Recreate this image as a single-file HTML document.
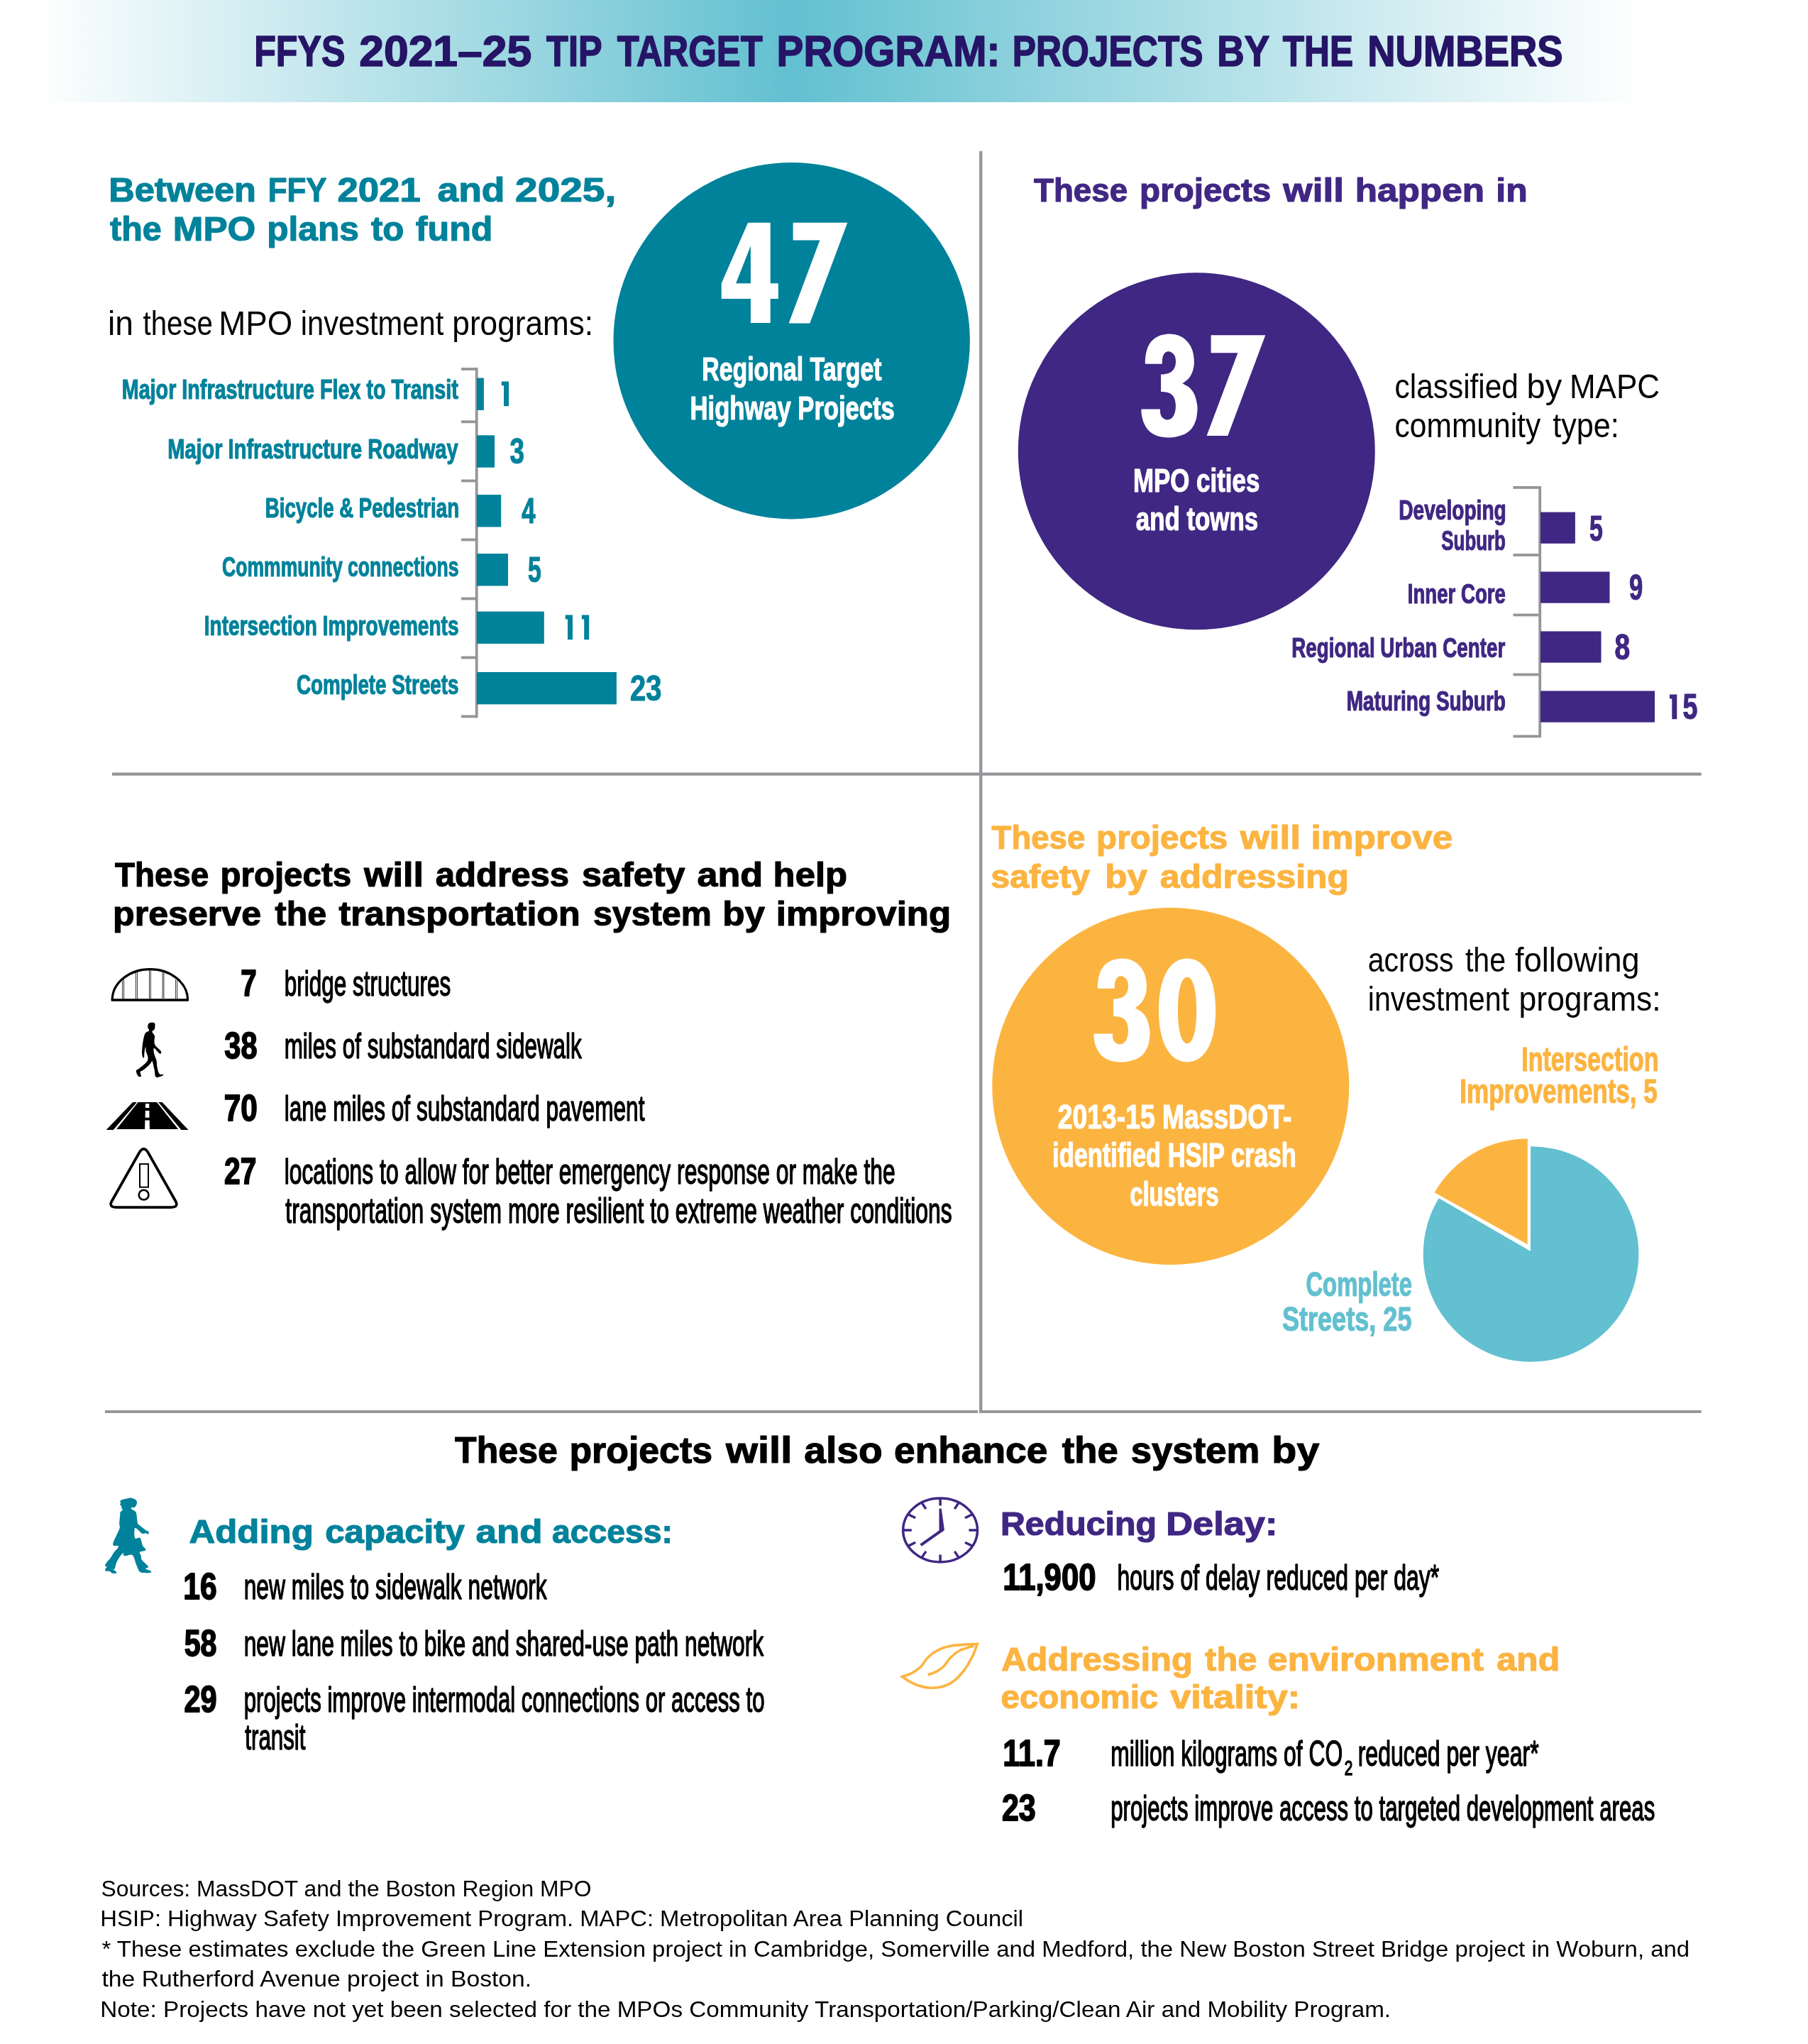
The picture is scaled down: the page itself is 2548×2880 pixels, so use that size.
<!DOCTYPE html>
<html lang="en">
<head>
<meta charset="utf-8">
<title>FFYs 2021-25 TIP Target Program: Projects by the Numbers</title>
<style>
html,body{margin:0;padding:0;background:#fff;}
body{width:2548px;height:2880px;overflow:hidden;font-family:"Liberation Sans",sans-serif;}
svg{display:block;font-family:"Liberation Sans",sans-serif;will-change:transform;}
</style>
</head>
<body>
<svg width="2548" height="2880" viewBox="0 0 2548 2880">
<defs>
<linearGradient id="hg" x1="0" y1="0" x2="2548" y2="0" gradientUnits="userSpaceOnUse">
<stop offset="0.0196" stop-color="#ffffff"/>
<stop offset="0.4376" stop-color="#62c0d0"/>
<stop offset="0.9082" stop-color="#ffffff"/>
</linearGradient>
</defs>
<rect x="0" y="0" width="2548" height="144" fill="url(#hg)"/>
<text x="358.14" y="93" font-size="62" font-weight="bold" fill="#261566" textLength="128.26" lengthAdjust="spacingAndGlyphs" stroke="#261566" stroke-width="1.6" stroke-linejoin="round">FFYS</text>
<text x="506.22" y="93" font-size="62" font-weight="bold" fill="#261566" textLength="242.94" lengthAdjust="spacingAndGlyphs" stroke="#261566" stroke-width="1.6" stroke-linejoin="round">2021–25</text>
<text x="770.10" y="93" font-size="62" font-weight="bold" fill="#261566" textLength="78.45" lengthAdjust="spacingAndGlyphs" stroke="#261566" stroke-width="1.6" stroke-linejoin="round">TIP</text>
<text x="869.69" y="93" font-size="62" font-weight="bold" fill="#261566" textLength="205.00" lengthAdjust="spacingAndGlyphs" stroke="#261566" stroke-width="1.6" stroke-linejoin="round">TARGET</text>
<text x="1094.62" y="93" font-size="62" font-weight="bold" fill="#261566" textLength="314.66" lengthAdjust="spacingAndGlyphs" stroke="#261566" stroke-width="1.6" stroke-linejoin="round">PROGRAM:</text>
<text x="1426.76" y="93" font-size="62" font-weight="bold" fill="#261566" textLength="268.90" lengthAdjust="spacingAndGlyphs" stroke="#261566" stroke-width="1.6" stroke-linejoin="round">PROJECTS</text>
<text x="1715.24" y="93" font-size="62" font-weight="bold" fill="#261566" textLength="73.99" lengthAdjust="spacingAndGlyphs" stroke="#261566" stroke-width="1.6" stroke-linejoin="round">BY</text>
<text x="1807.80" y="93" font-size="62" font-weight="bold" fill="#261566" textLength="99.24" lengthAdjust="spacingAndGlyphs" stroke="#261566" stroke-width="1.6" stroke-linejoin="round">THE</text>
<text x="1927.26" y="93" font-size="62" font-weight="bold" fill="#261566" textLength="275.39" lengthAdjust="spacingAndGlyphs" stroke="#261566" stroke-width="1.6" stroke-linejoin="round">NUMBERS</text>
<rect x="1380.1" y="213" width="4.3" height="1778" fill="#939598"/>
<rect x="157.9" y="1088.6" width="2239.8" height="4.2" fill="#939598"/>
<rect x="147.9" y="1987.1" width="1230.3" height="3.9" fill="#939598"/>
<rect x="1380.1" y="1987.1" width="1017.6" height="3.9" fill="#939598"/>
<text x="153.32" y="284.3" font-size="48" font-weight="bold" fill="#00829b" textLength="207.53" lengthAdjust="spacingAndGlyphs" stroke="#00829b" stroke-width="1.2" stroke-linejoin="round">Between</text>
<text x="377.75" y="284.3" font-size="48" font-weight="bold" fill="#00829b" textLength="82.87" lengthAdjust="spacingAndGlyphs" stroke="#00829b" stroke-width="1.2" stroke-linejoin="round">FFY</text>
<text x="475.46" y="284.3" font-size="48" font-weight="bold" fill="#00829b" textLength="117.25" lengthAdjust="spacingAndGlyphs" stroke="#00829b" stroke-width="1.2" stroke-linejoin="round">2021</text>
<text x="616.50" y="284.3" font-size="48" font-weight="bold" fill="#00829b" textLength="95.03" lengthAdjust="spacingAndGlyphs" stroke="#00829b" stroke-width="1.2" stroke-linejoin="round">and</text>
<text x="726.11" y="284.3" font-size="48" font-weight="bold" fill="#00829b" textLength="142.12" lengthAdjust="spacingAndGlyphs" stroke="#00829b" stroke-width="1.2" stroke-linejoin="round">2025,</text>
<text x="155.12" y="339.3" font-size="48" font-weight="bold" fill="#00829b" textLength="72.68" lengthAdjust="spacingAndGlyphs" stroke="#00829b" stroke-width="1.2" stroke-linejoin="round">the</text>
<text x="243.88" y="339.3" font-size="48" font-weight="bold" fill="#00829b" textLength="116.52" lengthAdjust="spacingAndGlyphs" stroke="#00829b" stroke-width="1.2" stroke-linejoin="round">MPO</text>
<text x="376.28" y="339.3" font-size="48" font-weight="bold" fill="#00829b" textLength="129.50" lengthAdjust="spacingAndGlyphs" stroke="#00829b" stroke-width="1.2" stroke-linejoin="round">plans</text>
<text x="522.91" y="339.3" font-size="48" font-weight="bold" fill="#00829b" textLength="46.40" lengthAdjust="spacingAndGlyphs" stroke="#00829b" stroke-width="1.2" stroke-linejoin="round">to</text>
<text x="585.85" y="339.3" font-size="48" font-weight="bold" fill="#00829b" textLength="108.64" lengthAdjust="spacingAndGlyphs" stroke="#00829b" stroke-width="1.2" stroke-linejoin="round">fund</text>
<text x="152.00" y="472" font-size="48.5" fill="#000000" textLength="35.96" lengthAdjust="spacingAndGlyphs">in</text>
<text x="201.60" y="472" font-size="48.5" fill="#000000" textLength="98.26" lengthAdjust="spacingAndGlyphs">these</text>
<text x="308.25" y="472" font-size="48.5" fill="#000000" textLength="104.04" lengthAdjust="spacingAndGlyphs">MPO</text>
<text x="423.79" y="472" font-size="48.5" fill="#000000" textLength="201.44" lengthAdjust="spacingAndGlyphs">investment</text>
<text x="637.33" y="472" font-size="48.5" fill="#000000" textLength="198.71" lengthAdjust="spacingAndGlyphs">programs:</text>
<circle cx="1115.7" cy="480.2" r="251.2" fill="#00829b"/>
<path fill="#fff" fill-rule="evenodd" d="M1054.1 313.7 L1085.7 313.7 L1085.7 399.3 L1096.8 399.3 L1096.8 420.9 L1085.7 420.9 L1085.7 455.1 L1057.9 455.1 L1057.9 420.9 L1016.7 420.9 L1016.7 399.3 Z M1057.9 346.4 L1057.9 399.3 L1037.1 399.3 Z"/>
<path fill="#fff" d="M1117.6 313.7 L1194.3 313.7 L1141.3 455.4 L1111.6 455.4 L1155.4 338.6 L1117.6 338.6 Z"/>
<text x="989.20" y="535.6" font-size="46.5" font-weight="bold" fill="#fff" textLength="253.33" lengthAdjust="spacingAndGlyphs" stroke="#fff" stroke-width="1.2" stroke-linejoin="round">Regional Target</text>
<text x="972.55" y="590.8" font-size="46.5" font-weight="bold" fill="#fff" textLength="288.27" lengthAdjust="spacingAndGlyphs" stroke="#fff" stroke-width="1.2" stroke-linejoin="round">Highway Projects</text>
<rect x="669.8" y="518.1" width="3.8" height="493.3" fill="#939598"/>
<rect x="650" y="518.1" width="21" height="3.8" fill="#939598"/>
<rect x="650" y="592.4" width="21" height="3.8" fill="#939598"/>
<rect x="650" y="675.6" width="21" height="3.8" fill="#939598"/>
<rect x="650" y="758.6" width="21" height="3.8" fill="#939598"/>
<rect x="650" y="841.6" width="21" height="3.8" fill="#939598"/>
<rect x="650" y="924.6" width="21" height="3.8" fill="#939598"/>
<rect x="650" y="1007.6" width="21" height="3.8" fill="#939598"/>
<rect x="672" y="532.5" width="9.9" height="45.4" fill="#00829b"/>
<text x="171.73" y="561.5" font-size="39" font-weight="bold" fill="#00829b" textLength="474.06" lengthAdjust="spacingAndGlyphs" stroke="#00829b" stroke-width="1.2" stroke-linejoin="round">Major Infrastructure Flex to Transit</text>
<path fill="#00829b" d="M706.7 537.5 H717.0 V572.2 H710.0 V543.3 H706.7 Z"/>
<rect x="672" y="613.3" width="25" height="45.4" fill="#00829b"/>
<text x="236.22" y="645.5" font-size="39" font-weight="bold" fill="#00829b" textLength="409.32" lengthAdjust="spacingAndGlyphs" stroke="#00829b" stroke-width="1.2" stroke-linejoin="round">Major Infrastructure Roadway</text>
<text x="718.38" y="653" font-size="50" font-weight="bold" fill="#00829b" textLength="20.45" lengthAdjust="spacingAndGlyphs" stroke="#00829b" stroke-width="1.2" stroke-linejoin="round">3</text>
<rect x="672" y="697.0999999999999" width="34.2" height="45.4" fill="#00829b"/>
<text x="373.81" y="728.5" font-size="39" font-weight="bold" fill="#00829b" textLength="273.22" lengthAdjust="spacingAndGlyphs" stroke="#00829b" stroke-width="1.2" stroke-linejoin="round">Bicycle &amp; Pedestrian</text>
<text x="735.28" y="736.8" font-size="50" font-weight="bold" fill="#00829b" textLength="19.23" lengthAdjust="spacingAndGlyphs" stroke="#00829b" stroke-width="1.2" stroke-linejoin="round">4</text>
<rect x="672" y="780.0999999999999" width="44" height="45.4" fill="#00829b"/>
<text x="313.04" y="811.5" font-size="39" font-weight="bold" fill="#00829b" textLength="333.47" lengthAdjust="spacingAndGlyphs" stroke="#00829b" stroke-width="1.2" stroke-linejoin="round">Commmunity connections</text>
<text x="743.89" y="819.8" font-size="50" font-weight="bold" fill="#00829b" textLength="18.80" lengthAdjust="spacingAndGlyphs" stroke="#00829b" stroke-width="1.2" stroke-linejoin="round">5</text>
<rect x="672" y="861.5999999999999" width="94.8" height="45.4" fill="#00829b"/>
<text x="287.78" y="894.5" font-size="39" font-weight="bold" fill="#00829b" textLength="358.79" lengthAdjust="spacingAndGlyphs" stroke="#00829b" stroke-width="1.2" stroke-linejoin="round">Intersection Improvements</text>
<path fill="#00829b" d="M796.7 866.6 H807.0 V901.3 H800.0 V872.4 H796.7 Z"/>
<path fill="#00829b" d="M819.9 866.6 H830.2 V901.3 H823.2 V872.4 H819.9 Z"/>
<rect x="672" y="947.0" width="196.9" height="45.4" fill="#00829b"/>
<text x="417.99" y="977.5" font-size="39" font-weight="bold" fill="#00829b" textLength="228.52" lengthAdjust="spacingAndGlyphs" stroke="#00829b" stroke-width="1.2" stroke-linejoin="round">Complete Streets</text>
<text x="888.01" y="986.7" font-size="50" font-weight="bold" fill="#00829b" textLength="44.28" lengthAdjust="spacingAndGlyphs" stroke="#00829b" stroke-width="1.2" stroke-linejoin="round">23</text>
<text x="1456.94" y="284.3" font-size="47" font-weight="bold" fill="#3f2783" textLength="132.27" lengthAdjust="spacingAndGlyphs" stroke="#3f2783" stroke-width="1.2" stroke-linejoin="round">These</text>
<text x="1606.11" y="284.3" font-size="47" font-weight="bold" fill="#3f2783" textLength="185.21" lengthAdjust="spacingAndGlyphs" stroke="#3f2783" stroke-width="1.2" stroke-linejoin="round">projects</text>
<text x="1808.37" y="284.3" font-size="47" font-weight="bold" fill="#3f2783" textLength="85.55" lengthAdjust="spacingAndGlyphs" stroke="#3f2783" stroke-width="1.2" stroke-linejoin="round">will</text>
<text x="1909.71" y="284.3" font-size="47" font-weight="bold" fill="#3f2783" textLength="182.31" lengthAdjust="spacingAndGlyphs" stroke="#3f2783" stroke-width="1.2" stroke-linejoin="round">happen</text>
<text x="2108.31" y="284.3" font-size="47" font-weight="bold" fill="#3f2783" textLength="44.32" lengthAdjust="spacingAndGlyphs" stroke="#3f2783" stroke-width="1.2" stroke-linejoin="round">in</text>
<circle cx="1686.3" cy="635.8" r="251.5" fill="#3f2783"/>
<path fill="#fff" d="M1613.9 512.8 C1613.9 511.6 1613.6 508.6 1614.0 505.4 C1614.4 502.1 1615.0 497.1 1616.3 493.1 C1617.6 489.2 1619.3 484.9 1622.1 481.6 C1624.8 478.4 1628.3 475.6 1632.6 473.7 C1636.8 471.9 1642.5 470.6 1647.7 470.6 C1652.8 470.6 1659.0 471.8 1663.5 473.7 C1667.9 475.7 1671.4 478.9 1674.3 482.4 C1677.1 485.8 1679.3 489.9 1680.7 494.6 C1682.2 499.3 1682.9 505.6 1682.9 510.4 C1682.9 515.2 1682.0 519.5 1680.7 523.3 C1679.4 527.2 1677.4 530.6 1675.0 533.4 C1672.6 536.2 1667.8 539.2 1666.3 540.3 C1668.0 541.3 1673.5 543.7 1676.4 546.3 C1679.3 549.0 1681.8 552.3 1683.6 556.4 C1685.4 560.5 1686.6 566.7 1687.2 570.8 C1687.8 574.9 1687.6 577.1 1687.2 580.9 C1686.8 584.6 1686.4 589.2 1685.0 593.1 C1683.7 596.9 1681.9 600.8 1679.3 603.9 C1676.7 607.0 1673.1 609.8 1669.2 611.8 C1665.4 613.7 1660.4 614.9 1656.3 615.7 C1652.2 616.4 1649.1 616.7 1644.8 616.4 C1640.5 616.1 1634.7 615.5 1630.4 613.9 C1626.1 612.3 1622.0 609.9 1618.9 606.7 C1615.8 603.6 1613.4 599.2 1611.7 595.2 C1610.0 591.3 1609.2 586.1 1608.7 583.0 C1608.2 579.9 1608.6 577.6 1608.5 576.5 L1635.0 576.5 C1635.1 577.6 1634.9 581.0 1635.4 583.0 C1636.0 585.0 1636.7 587.0 1638.3 588.5 C1639.9 589.9 1642.5 591.6 1644.8 591.6 C1647.0 591.7 1649.8 590.6 1651.7 588.8 C1653.5 587.0 1655.0 583.9 1655.8 580.9 C1656.7 577.9 1657.0 574.1 1656.9 570.8 C1656.7 567.4 1656.1 563.4 1654.8 560.7 C1653.6 558.0 1651.4 555.9 1649.4 554.5 C1647.3 553.2 1644.8 552.9 1642.6 552.5 C1640.4 552.1 1637.2 552.2 1636.1 552.1 L1636.1 527.4 C1637.2 527.3 1640.4 527.4 1642.6 526.9 C1644.8 526.5 1647.3 526.1 1649.4 524.8 C1651.4 523.5 1653.6 521.4 1654.8 519.0 C1656.1 516.6 1656.9 513.3 1657.0 510.4 C1657.1 507.5 1656.6 504.0 1655.7 501.8 C1654.8 499.5 1653.1 498.1 1651.7 497.0 C1650.2 495.9 1648.6 495.3 1646.9 495.3 C1645.3 495.3 1643.2 495.8 1641.9 496.9 C1640.6 498.0 1639.7 500.0 1639.0 501.8 C1638.4 503.5 1638.1 505.7 1637.9 507.5 C1637.7 509.4 1637.9 512.0 1637.9 512.8 Z"/>
<path fill="#fff" d="M1706.6 472.3 L1783.3 472.3 L1730.3 613.9 L1700.6 613.9 L1744.4 497.2 L1706.6 497.2 Z"/>
<text x="1596.93" y="692.6" font-size="47" font-weight="bold" fill="#fff" textLength="178.36" lengthAdjust="spacingAndGlyphs" stroke="#fff" stroke-width="1.2" stroke-linejoin="round">MPO cities</text>
<text x="1600.75" y="747.3" font-size="47" font-weight="bold" fill="#fff" textLength="172.42" lengthAdjust="spacingAndGlyphs" stroke="#fff" stroke-width="1.2" stroke-linejoin="round">and towns</text>
<text x="1965.61" y="561.2" font-size="48.5" fill="#000000" textLength="174.27" lengthAdjust="spacingAndGlyphs">classified</text>
<text x="2151.55" y="561.2" font-size="48.5" fill="#000000" textLength="49.61" lengthAdjust="spacingAndGlyphs">by</text>
<text x="2211.99" y="561.2" font-size="48.5" fill="#000000" textLength="126.94" lengthAdjust="spacingAndGlyphs">MAPC</text>
<text x="1965.60" y="616.1" font-size="48.5" fill="#000000" textLength="205.58" lengthAdjust="spacingAndGlyphs">community</text>
<text x="2188.25" y="616.1" font-size="48.5" fill="#000000" textLength="93.56" lengthAdjust="spacingAndGlyphs">type:</text>
<rect x="2168.3" y="685.0" width="3.8" height="354.40000000000003" fill="#939598"/>
<rect x="2132.5" y="685.0" width="36" height="3.8" fill="#939598"/>
<rect x="2132.5" y="780.1" width="36" height="3.8" fill="#939598"/>
<rect x="2132.5" y="864.6" width="36" height="3.8" fill="#939598"/>
<rect x="2132.5" y="948.6" width="36" height="3.8" fill="#939598"/>
<rect x="2132.5" y="1035.6" width="36" height="3.8" fill="#939598"/>
<rect x="2171" y="721.6" width="48.90000000000009" height="44.2" fill="#3f2783"/>
<rect x="2171" y="805.5" width="97.5" height="44.2" fill="#3f2783"/>
<rect x="2171" y="889.5" width="85.5" height="44.2" fill="#3f2783"/>
<rect x="2171" y="973.5" width="161" height="44.2" fill="#3f2783"/>
<text x="1971.27" y="731.5" font-size="39" font-weight="bold" fill="#3f2783" textLength="151.45" lengthAdjust="spacingAndGlyphs" stroke="#3f2783" stroke-width="1.2" stroke-linejoin="round">Developing</text>
<text x="2031.32" y="775" font-size="39" font-weight="bold" fill="#3f2783" textLength="90.60" lengthAdjust="spacingAndGlyphs" stroke="#3f2783" stroke-width="1.2" stroke-linejoin="round">Suburb</text>
<text x="1983.81" y="850" font-size="39" font-weight="bold" fill="#3f2783" textLength="138.09" lengthAdjust="spacingAndGlyphs" stroke="#3f2783" stroke-width="1.2" stroke-linejoin="round">Inner Core</text>
<text x="1820.29" y="926" font-size="39" font-weight="bold" fill="#3f2783" textLength="301.03" lengthAdjust="spacingAndGlyphs" stroke="#3f2783" stroke-width="1.2" stroke-linejoin="round">Regional Urban Center</text>
<text x="1897.78" y="1000.5" font-size="39" font-weight="bold" fill="#3f2783" textLength="224.22" lengthAdjust="spacingAndGlyphs" stroke="#3f2783" stroke-width="1.2" stroke-linejoin="round">Maturing Suburb</text>
<text x="2239.88" y="761.5" font-size="50" font-weight="bold" fill="#3f2783" textLength="18.91" lengthAdjust="spacingAndGlyphs" stroke="#3f2783" stroke-width="1.2" stroke-linejoin="round">5</text>
<text x="2295.89" y="844.5" font-size="50" font-weight="bold" fill="#3f2783" textLength="19.27" lengthAdjust="spacingAndGlyphs" stroke="#3f2783" stroke-width="1.2" stroke-linejoin="round">9</text>
<text x="2275.43" y="929" font-size="50" font-weight="bold" fill="#3f2783" textLength="21.69" lengthAdjust="spacingAndGlyphs" stroke="#3f2783" stroke-width="1.2" stroke-linejoin="round">8</text>
<path fill="#3f2783" d="M2353.0 978.6 H2363.3 V1013.3 H2356.3 V984.4 H2353.0 Z"/>
<text x="2371.47" y="1013.3" font-size="50" font-weight="bold" fill="#3f2783" textLength="20.91" lengthAdjust="spacingAndGlyphs" stroke="#3f2783" stroke-width="1.2" stroke-linejoin="round">5</text>
<text x="161.94" y="1249" font-size="49" font-weight="bold" fill="#000000" textLength="132.37" lengthAdjust="spacingAndGlyphs" stroke="#000000" stroke-width="1.2" stroke-linejoin="round">These</text>
<text x="310.41" y="1249" font-size="49" font-weight="bold" fill="#000000" textLength="184.70" lengthAdjust="spacingAndGlyphs" stroke="#000000" stroke-width="1.2" stroke-linejoin="round">projects</text>
<text x="513.06" y="1249" font-size="49" font-weight="bold" fill="#000000" textLength="83.89" lengthAdjust="spacingAndGlyphs" stroke="#000000" stroke-width="1.2" stroke-linejoin="round">will</text>
<text x="613.73" y="1249" font-size="49" font-weight="bold" fill="#000000" textLength="188.47" lengthAdjust="spacingAndGlyphs" stroke="#000000" stroke-width="1.2" stroke-linejoin="round">address</text>
<text x="820.14" y="1249" font-size="49" font-weight="bold" fill="#000000" textLength="145.35" lengthAdjust="spacingAndGlyphs" stroke="#000000" stroke-width="1.2" stroke-linejoin="round">safety</text>
<text x="982.44" y="1249" font-size="49" font-weight="bold" fill="#000000" textLength="92.70" lengthAdjust="spacingAndGlyphs" stroke="#000000" stroke-width="1.2" stroke-linejoin="round">and</text>
<text x="1089.64" y="1249" font-size="49" font-weight="bold" fill="#000000" textLength="104.42" lengthAdjust="spacingAndGlyphs" stroke="#000000" stroke-width="1.2" stroke-linejoin="round">help</text>
<text x="159.14" y="1304" font-size="49" font-weight="bold" fill="#000000" textLength="208.91" lengthAdjust="spacingAndGlyphs" stroke="#000000" stroke-width="1.2" stroke-linejoin="round">preserve</text>
<text x="387.52" y="1304" font-size="49" font-weight="bold" fill="#000000" textLength="72.58" lengthAdjust="spacingAndGlyphs" stroke="#000000" stroke-width="1.2" stroke-linejoin="round">the</text>
<text x="477.50" y="1304" font-size="49" font-weight="bold" fill="#000000" textLength="340.17" lengthAdjust="spacingAndGlyphs" stroke="#000000" stroke-width="1.2" stroke-linejoin="round">transportation</text>
<text x="835.91" y="1304" font-size="49" font-weight="bold" fill="#000000" textLength="166.85" lengthAdjust="spacingAndGlyphs" stroke="#000000" stroke-width="1.2" stroke-linejoin="round">system</text>
<text x="1018.27" y="1304" font-size="49" font-weight="bold" fill="#000000" textLength="59.79" lengthAdjust="spacingAndGlyphs" stroke="#000000" stroke-width="1.2" stroke-linejoin="round">by</text>
<text x="1093.73" y="1304" font-size="49" font-weight="bold" fill="#000000" textLength="246.41" lengthAdjust="spacingAndGlyphs" stroke="#000000" stroke-width="1.2" stroke-linejoin="round">improving</text>
<text x="339.28" y="1403.2" font-size="52" font-weight="bold" fill="#000000" textLength="22.48" lengthAdjust="spacingAndGlyphs" stroke="#000000" stroke-width="1.8" stroke-linejoin="round">7</text>
<text x="400.70" y="1403.2" font-size="50" fill="#000000" textLength="234.59" lengthAdjust="spacingAndGlyphs" stroke="#000000" stroke-width="1.5" stroke-linejoin="round">bridge structures</text>
<text x="316.36" y="1490.7" font-size="52" font-weight="bold" fill="#000000" textLength="46.08" lengthAdjust="spacingAndGlyphs" stroke="#000000" stroke-width="1.8" stroke-linejoin="round">38</text>
<text x="400.71" y="1490.7" font-size="50" fill="#000000" textLength="419.05" lengthAdjust="spacingAndGlyphs" stroke="#000000" stroke-width="1.5" stroke-linejoin="round">miles of substandard sidewalk</text>
<text x="315.70" y="1579.2" font-size="52" font-weight="bold" fill="#000000" textLength="47.19" lengthAdjust="spacingAndGlyphs" stroke="#000000" stroke-width="1.8" stroke-linejoin="round">70</text>
<text x="400.70" y="1579.2" font-size="50" fill="#000000" textLength="507.72" lengthAdjust="spacingAndGlyphs" stroke="#000000" stroke-width="1.5" stroke-linejoin="round">lane miles of substandard pavement</text>
<text x="315.97" y="1668.2" font-size="52" font-weight="bold" fill="#000000" textLength="45.35" lengthAdjust="spacingAndGlyphs" stroke="#000000" stroke-width="1.8" stroke-linejoin="round">27</text>
<text x="400.68" y="1668.2" font-size="50" fill="#000000" textLength="861.00" lengthAdjust="spacingAndGlyphs" stroke="#000000" stroke-width="1.5" stroke-linejoin="round">locations to allow for better emergency response or make the</text>
<text x="402.27" y="1723.2" font-size="50" fill="#000000" textLength="939.54" lengthAdjust="spacingAndGlyphs" stroke="#000000" stroke-width="1.5" stroke-linejoin="round">transportation system more resilient to extreme weather conditions</text>
<g id="bridge" fill="none" stroke="#000"><path stroke-width="3.4" d="M156.7 1409 H265.8"/><path stroke-width="3.2" d="M158.2 1409 A53.2 43.4 0 0 1 264.6 1409"/><path stroke-width="0.8" d="M172.6 1408 V1381.5 M174.6 1408 V1380 M191.5 1408 V1370 M193.6 1408 V1369.5 M210.5 1408 V1366 M212.4 1408 V1366 M247.6 1408 V1380 M249.7 1408 V1381.5"/><path stroke="#808080" stroke-width="3.2" d="M230 1407.5 V1370"/></g>
<g id="road" fill="#000"><path d="M187.1 1553 L192.9 1553 L159.8 1592 L149.7 1592 Z"/><path d="M223.2 1553 L228.5 1553 L265.5 1592 L255.4 1592 Z"/><path d="M194.6 1553 L221 1553 L251.2 1591 L164.2 1591 Z"/><path fill="#fff" d="M205 1555 H210.2 L210.3 1561 H204.9 Z M204.8 1565.1 H210.4 L210.5 1574.8 H204.6 Z M204.4 1578.6 H210.7 L210.9 1591.5 H204.1 Z"/></g>
<g id="warn" fill="none" stroke="#000"><path stroke-width="3.7" d="M196.7 1623.3 Q202.5 1614.3 208.3 1623.3 L247.5 1692.5 Q252.4 1701.1 240 1701.1 L165 1701.1 Q152.6 1701.1 157.5 1692.5 Z"/><rect x="197" y="1640.1" width="12" height="32.6" stroke-width="2"/><circle cx="202.6" cy="1683.6" r="6.9" stroke-width="2.6"/></g>
<path id="walker" fill="#000" d="M209.0 1443.0 C209.9 1441.6 211.2 1441.0 213.0 1440.8 C214.8 1440.6 217.0 1440.4 218.0 1441.8 C219.0 1443.2 218.4 1446.1 218.2 1448.0 C218.0 1449.9 217.7 1450.4 217.0 1451.3 C216.3 1452.2 215.3 1451.8 214.9 1452.5 C214.5 1453.2 214.3 1453.6 214.9 1455.0 C215.5 1456.4 217.5 1457.3 218.0 1459.7 C218.5 1462.1 217.2 1464.4 217.5 1467.2 C217.8 1470.0 217.4 1470.7 219.3 1473.5 C221.2 1476.3 225.7 1479.0 226.8 1481.2 C227.9 1483.4 226.9 1485.3 225.0 1484.5 C223.1 1483.7 218.6 1476.8 217.1 1477.0 C215.6 1477.2 216.8 1482.1 217.5 1485.6 C218.2 1489.1 219.8 1490.9 220.6 1494.4 C221.4 1497.9 220.7 1499.5 221.5 1503.2 C222.3 1506.9 222.8 1510.9 224.6 1513.0 C226.4 1515.1 229.7 1513.1 230.3 1513.8 C230.9 1514.5 229.6 1515.6 227.5 1516.3 C225.4 1517.0 221.7 1519.3 219.7 1517.4 C217.7 1515.5 218.5 1511.1 217.5 1506.8 C216.5 1502.5 215.7 1498.2 214.9 1496.0 C214.1 1493.8 214.5 1495.2 213.6 1496.0 C212.7 1496.8 212.9 1497.8 210.5 1500.2 C208.1 1502.6 204.3 1505.8 201.7 1507.8 C199.1 1509.8 198.2 1508.7 197.7 1510.4 C197.2 1512.1 199.6 1515.4 199.0 1516.5 C198.4 1517.6 196.0 1517.6 194.6 1516.0 C193.2 1514.4 191.6 1510.8 192.0 1508.6 C192.4 1506.4 193.2 1508.0 196.4 1505.2 C199.6 1502.4 205.7 1498.6 207.8 1494.5 C209.9 1490.4 207.4 1487.3 207.0 1484.8 C206.6 1482.3 206.2 1483.9 205.8 1482.0 C205.4 1480.1 205.7 1475.1 205.2 1475.3 C204.7 1475.5 203.9 1480.1 203.5 1483.0 C203.1 1485.9 203.5 1488.9 203.0 1490.0 C202.5 1491.1 201.3 1490.8 200.8 1488.3 C200.3 1485.8 199.7 1483.9 200.3 1477.7 C200.9 1471.5 202.0 1462.5 203.9 1457.5 C205.8 1452.5 209.1 1454.4 210.0 1452.5 C210.9 1450.6 208.7 1449.9 208.5 1448.0 C208.3 1446.1 208.1 1444.4 209.0 1443.0 Z"/>
<text x="1397.54" y="1196" font-size="47" font-weight="bold" fill="#fcb441" textLength="131.76" lengthAdjust="spacingAndGlyphs" stroke="#fcb441" stroke-width="1.2" stroke-linejoin="round">These</text>
<text x="1545.11" y="1196" font-size="47" font-weight="bold" fill="#fcb441" textLength="185.11" lengthAdjust="spacingAndGlyphs" stroke="#fcb441" stroke-width="1.2" stroke-linejoin="round">projects</text>
<text x="1747.76" y="1196" font-size="47" font-weight="bold" fill="#fcb441" textLength="85.14" lengthAdjust="spacingAndGlyphs" stroke="#fcb441" stroke-width="1.2" stroke-linejoin="round">will</text>
<text x="1847.50" y="1196" font-size="47" font-weight="bold" fill="#fcb441" textLength="199.80" lengthAdjust="spacingAndGlyphs" stroke="#fcb441" stroke-width="1.2" stroke-linejoin="round">improve</text>
<text x="1396.31" y="1250.6" font-size="47" font-weight="bold" fill="#fcb441" textLength="139.87" lengthAdjust="spacingAndGlyphs" stroke="#fcb441" stroke-width="1.2" stroke-linejoin="round">safety</text>
<text x="1557.17" y="1250.6" font-size="47" font-weight="bold" fill="#fcb441" textLength="59.79" lengthAdjust="spacingAndGlyphs" stroke="#fcb441" stroke-width="1.2" stroke-linejoin="round">by</text>
<text x="1634.70" y="1250.6" font-size="47" font-weight="bold" fill="#fcb441" textLength="266.45" lengthAdjust="spacingAndGlyphs" stroke="#fcb441" stroke-width="1.2" stroke-linejoin="round">addressing</text>
<circle cx="1649.8" cy="1530.4" r="251.5" fill="#fcb441"/>
<path fill="#fff" d="M1546.9 1392.8 C1546.9 1391.6 1546.6 1388.6 1547.0 1385.4 C1547.4 1382.1 1548.0 1377.1 1549.3 1373.1 C1550.7 1369.2 1552.4 1364.9 1555.1 1361.6 C1557.8 1358.4 1561.3 1355.6 1565.6 1353.7 C1569.8 1351.9 1575.5 1350.6 1580.7 1350.6 C1585.8 1350.6 1592.1 1351.8 1596.5 1353.7 C1600.9 1355.7 1604.4 1358.9 1607.3 1362.4 C1610.2 1365.8 1612.3 1369.9 1613.7 1374.6 C1615.2 1379.3 1615.9 1385.6 1615.9 1390.4 C1615.9 1395.2 1615.1 1399.5 1613.7 1403.3 C1612.4 1407.2 1610.4 1410.6 1608.0 1413.4 C1605.6 1416.2 1600.8 1419.2 1599.4 1420.3 C1601.0 1421.3 1606.6 1423.7 1609.4 1426.3 C1612.3 1429.0 1614.8 1432.3 1616.6 1436.4 C1618.4 1440.5 1619.6 1446.7 1620.2 1450.8 C1620.8 1454.9 1620.6 1457.1 1620.2 1460.9 C1619.9 1464.6 1619.4 1469.2 1618.1 1473.1 C1616.7 1476.9 1614.9 1480.8 1612.3 1483.9 C1609.7 1487.0 1606.1 1489.8 1602.2 1491.8 C1598.4 1493.7 1593.4 1494.9 1589.3 1495.7 C1585.2 1496.4 1582.1 1496.7 1577.8 1496.4 C1573.5 1496.1 1567.7 1495.5 1563.4 1493.9 C1559.1 1492.3 1555.0 1489.9 1551.9 1486.7 C1548.8 1483.6 1546.4 1479.2 1544.7 1475.2 C1543.0 1471.3 1542.2 1466.1 1541.7 1463.0 C1541.2 1459.9 1541.6 1457.6 1541.6 1456.5 L1568.0 1456.5 C1568.1 1457.6 1567.9 1461.0 1568.4 1463.0 C1569.0 1465.0 1569.8 1467.0 1571.3 1468.5 C1572.9 1469.9 1575.6 1471.6 1577.8 1471.6 C1580.0 1471.7 1582.9 1470.6 1584.7 1468.8 C1586.5 1467.0 1588.0 1463.9 1588.9 1460.9 C1589.7 1457.9 1590.0 1454.1 1589.9 1450.8 C1589.7 1447.4 1589.1 1443.4 1587.9 1440.7 C1586.6 1438.0 1584.4 1435.9 1582.4 1434.5 C1580.4 1433.2 1577.8 1432.9 1575.6 1432.5 C1573.4 1432.1 1570.2 1432.2 1569.2 1432.1 L1569.2 1407.4 C1570.2 1407.3 1573.4 1407.4 1575.6 1406.9 C1577.8 1406.5 1580.4 1406.1 1582.4 1404.8 C1584.4 1403.5 1586.6 1401.4 1587.9 1399.0 C1589.1 1396.6 1589.9 1393.3 1590.0 1390.4 C1590.2 1387.5 1589.6 1384.0 1588.7 1381.8 C1587.8 1379.5 1586.2 1378.1 1584.7 1377.0 C1583.2 1375.9 1581.6 1375.3 1580.0 1375.3 C1578.3 1375.3 1576.2 1375.8 1574.9 1376.9 C1573.6 1378.0 1572.7 1380.0 1572.0 1381.8 C1571.4 1383.5 1571.1 1385.7 1570.9 1387.5 C1570.7 1389.4 1570.9 1392.0 1570.9 1392.8 Z"/>
<path fill="#fff" fill-rule="evenodd" d="M1633.0 1423.5 C1633.0 1378.3 1648.3 1350.6 1673.1 1350.6 C1698.0 1350.6 1713.2 1378.3 1713.2 1423.5 C1713.2 1468.7 1698.0 1496.4 1673.1 1496.4 C1648.3 1496.4 1633.0 1468.7 1633.0 1423.5 Z M1660.0 1423.5 C1660.0 1394.5 1665.0 1376.8 1673.1 1376.8 C1681.3 1376.8 1686.2 1394.5 1686.2 1423.5 C1686.2 1452.4 1681.3 1470.2 1673.1 1470.2 C1665.0 1470.2 1660.0 1452.4 1660.0 1423.5 Z"/>
<text x="1490.80" y="1589.8" font-size="48" font-weight="bold" fill="#fff" textLength="329.53" lengthAdjust="spacingAndGlyphs" stroke="#fff" stroke-width="1.2" stroke-linejoin="round">2013-15 MassDOT-</text>
<text x="1483.09" y="1644.4" font-size="48" font-weight="bold" fill="#fff" textLength="343.76" lengthAdjust="spacingAndGlyphs" stroke="#fff" stroke-width="1.2" stroke-linejoin="round">identified HSIP crash</text>
<text x="1592.39" y="1699.3" font-size="48" font-weight="bold" fill="#fff" textLength="125.23" lengthAdjust="spacingAndGlyphs" stroke="#fff" stroke-width="1.2" stroke-linejoin="round">clusters</text>
<text x="1927.76" y="1369.2" font-size="48.5" fill="#000000" textLength="120.89" lengthAdjust="spacingAndGlyphs">across</text>
<text x="2064.88" y="1369.2" font-size="48.5" fill="#000000" textLength="57.17" lengthAdjust="spacingAndGlyphs">the</text>
<text x="2135.12" y="1369.2" font-size="48.5" fill="#000000" textLength="175.57" lengthAdjust="spacingAndGlyphs">following</text>
<text x="1927.72" y="1423.5" font-size="48.5" fill="#000000" textLength="199.41" lengthAdjust="spacingAndGlyphs">investment</text>
<text x="2140.61" y="1423.5" font-size="48.5" fill="#000000" textLength="200.06" lengthAdjust="spacingAndGlyphs">programs:</text>
<text x="2144.18" y="1509.3" font-size="49" font-weight="bold" fill="#fcb441" textLength="193.37" lengthAdjust="spacingAndGlyphs" stroke="#fcb441" stroke-width="1.2" stroke-linejoin="round">Intersection</text>
<text x="2057.22" y="1554.2" font-size="49" font-weight="bold" fill="#fcb441" textLength="278.64" lengthAdjust="spacingAndGlyphs" stroke="#fcb441" stroke-width="1.2" stroke-linejoin="round">Improvements, 5</text>
<text x="1840.39" y="1825.6" font-size="49" font-weight="bold" fill="#62c0d0" textLength="149.60" lengthAdjust="spacingAndGlyphs" stroke="#62c0d0" stroke-width="1.2" stroke-linejoin="round">Complete</text>
<text x="1806.92" y="1875.2" font-size="49" font-weight="bold" fill="#62c0d0" textLength="182.54" lengthAdjust="spacingAndGlyphs" stroke="#62c0d0" stroke-width="1.2" stroke-linejoin="round">Streets, 25</text>
<path d="M2157 1763 L2157.1 1615.2 A151.8 151.8 0 1 1 2027.7 1688.35 Z" fill="#62c0d0"/>
<path d="M2152.7 1753.3 L2021.6 1680.2 A151.6 151.6 0 0 1 2152.9 1604.4 Z" fill="#fcb441"/>
<text x="641.10" y="2061.2" font-size="52" font-weight="bold" fill="#000000" textLength="144.77" lengthAdjust="spacingAndGlyphs" stroke="#000000" stroke-width="1.2" stroke-linejoin="round">These</text>
<text x="802.43" y="2061.2" font-size="52" font-weight="bold" fill="#000000" textLength="201.55" lengthAdjust="spacingAndGlyphs" stroke="#000000" stroke-width="1.2" stroke-linejoin="round">projects</text>
<text x="1022.99" y="2061.2" font-size="52" font-weight="bold" fill="#000000" textLength="93.24" lengthAdjust="spacingAndGlyphs" stroke="#000000" stroke-width="1.2" stroke-linejoin="round">will</text>
<text x="1133.25" y="2061.2" font-size="52" font-weight="bold" fill="#000000" textLength="110.32" lengthAdjust="spacingAndGlyphs" stroke="#000000" stroke-width="1.2" stroke-linejoin="round">also</text>
<text x="1259.97" y="2061.2" font-size="52" font-weight="bold" fill="#000000" textLength="216.42" lengthAdjust="spacingAndGlyphs" stroke="#000000" stroke-width="1.2" stroke-linejoin="round">enhance</text>
<text x="1496.77" y="2061.2" font-size="52" font-weight="bold" fill="#000000" textLength="78.97" lengthAdjust="spacingAndGlyphs" stroke="#000000" stroke-width="1.2" stroke-linejoin="round">the</text>
<text x="1593.76" y="2061.2" font-size="52" font-weight="bold" fill="#000000" textLength="181.64" lengthAdjust="spacingAndGlyphs" stroke="#000000" stroke-width="1.2" stroke-linejoin="round">system</text>
<text x="1792.37" y="2061.2" font-size="52" font-weight="bold" fill="#000000" textLength="66.93" lengthAdjust="spacingAndGlyphs" stroke="#000000" stroke-width="1.2" stroke-linejoin="round">by</text>
<text x="266.53" y="2173.6" font-size="47" font-weight="bold" fill="#00829b" textLength="175.20" lengthAdjust="spacingAndGlyphs" stroke="#00829b" stroke-width="1.2" stroke-linejoin="round">Adding</text>
<text x="458.23" y="2173.6" font-size="47" font-weight="bold" fill="#00829b" textLength="196.74" lengthAdjust="spacingAndGlyphs" stroke="#00829b" stroke-width="1.2" stroke-linejoin="round">capacity</text>
<text x="670.61" y="2173.6" font-size="47" font-weight="bold" fill="#00829b" textLength="93.97" lengthAdjust="spacingAndGlyphs" stroke="#00829b" stroke-width="1.2" stroke-linejoin="round">and</text>
<text x="778.01" y="2173.6" font-size="47" font-weight="bold" fill="#00829b" textLength="170.03" lengthAdjust="spacingAndGlyphs" stroke="#00829b" stroke-width="1.2" stroke-linejoin="round">access:</text>
<text x="258.35" y="2252.5" font-size="52" font-weight="bold" fill="#000000" textLength="47.34" lengthAdjust="spacingAndGlyphs" stroke="#000000" stroke-width="1.8" stroke-linejoin="round">16</text>
<text x="343.69" y="2252.5" font-size="50" fill="#000000" textLength="427.06" lengthAdjust="spacingAndGlyphs" stroke="#000000" stroke-width="1.5" stroke-linejoin="round">new miles to sidewalk network</text>
<text x="259.67" y="2332.5" font-size="52" font-weight="bold" fill="#000000" textLength="45.77" lengthAdjust="spacingAndGlyphs" stroke="#000000" stroke-width="1.8" stroke-linejoin="round">58</text>
<text x="343.69" y="2332.5" font-size="50" fill="#000000" textLength="732.54" lengthAdjust="spacingAndGlyphs" stroke="#000000" stroke-width="1.5" stroke-linejoin="round">new lane miles to bike and shared-use path network</text>
<text x="259.45" y="2412" font-size="52" font-weight="bold" fill="#000000" textLength="46.21" lengthAdjust="spacingAndGlyphs" stroke="#000000" stroke-width="1.8" stroke-linejoin="round">29</text>
<text x="343.73" y="2412" font-size="50" fill="#000000" textLength="733.83" lengthAdjust="spacingAndGlyphs" stroke="#000000" stroke-width="1.5" stroke-linejoin="round">projects improve intermodal connections or access to</text>
<text x="345.28" y="2465" font-size="50" fill="#000000" textLength="85.23" lengthAdjust="spacingAndGlyphs" stroke="#000000" stroke-width="1.5" stroke-linejoin="round">transit</text>
<text x="1409.96" y="2162.5" font-size="47" font-weight="bold" fill="#3f2783" textLength="220.12" lengthAdjust="spacingAndGlyphs" stroke="#3f2783" stroke-width="1.2" stroke-linejoin="round">Reducing</text>
<text x="1643.19" y="2162.5" font-size="47" font-weight="bold" fill="#3f2783" textLength="157.26" lengthAdjust="spacingAndGlyphs" stroke="#3f2783" stroke-width="1.2" stroke-linejoin="round">Delay:</text>
<text x="1413.28" y="2240" font-size="52" font-weight="bold" fill="#000000" textLength="131.22" lengthAdjust="spacingAndGlyphs" stroke="#000000" stroke-width="1.8" stroke-linejoin="round">11,900</text>
<text x="1574.51" y="2240" font-size="50" fill="#000000" textLength="453.76" lengthAdjust="spacingAndGlyphs" stroke="#000000" stroke-width="1.5" stroke-linejoin="round">hours of delay reduced per day*</text>
<text x="1411.17" y="2353.6" font-size="47" font-weight="bold" fill="#fcb441" textLength="269.77" lengthAdjust="spacingAndGlyphs" stroke="#fcb441" stroke-width="1.2" stroke-linejoin="round">Addressing</text>
<text x="1698.11" y="2353.6" font-size="47" font-weight="bold" fill="#fcb441" textLength="73.41" lengthAdjust="spacingAndGlyphs" stroke="#fcb441" stroke-width="1.2" stroke-linejoin="round">the</text>
<text x="1786.57" y="2353.6" font-size="47" font-weight="bold" fill="#fcb441" textLength="304.29" lengthAdjust="spacingAndGlyphs" stroke="#fcb441" stroke-width="1.2" stroke-linejoin="round">environment</text>
<text x="2109.20" y="2353.6" font-size="47" font-weight="bold" fill="#fcb441" textLength="89.11" lengthAdjust="spacingAndGlyphs" stroke="#fcb441" stroke-width="1.2" stroke-linejoin="round">and</text>
<text x="1410.50" y="2407" font-size="47" font-weight="bold" fill="#fcb441" textLength="221.77" lengthAdjust="spacingAndGlyphs" stroke="#fcb441" stroke-width="1.2" stroke-linejoin="round">economic</text>
<text x="1649.24" y="2407" font-size="47" font-weight="bold" fill="#fcb441" textLength="182.88" lengthAdjust="spacingAndGlyphs" stroke="#fcb441" stroke-width="1.2" stroke-linejoin="round">vitality:</text>
<text x="1413.31" y="2487.5" font-size="52" font-weight="bold" fill="#000000" textLength="81.56" lengthAdjust="spacingAndGlyphs" stroke="#000000" stroke-width="1.8" stroke-linejoin="round">11.7</text>
<text x="1565.18" y="2487.5" font-size="50" fill="#000000" textLength="327.02" lengthAdjust="spacingAndGlyphs" stroke="#000000" stroke-width="1.5" stroke-linejoin="round">million kilograms of CO</text>
<text x="1894.71" y="2501" font-size="29" fill="#000000" textLength="11.61" lengthAdjust="spacingAndGlyphs" stroke="#000000" stroke-width="1.5" stroke-linejoin="round">2</text>
<text x="1913.66" y="2487.5" font-size="50" fill="#000000" textLength="255.05" lengthAdjust="spacingAndGlyphs" stroke="#000000" stroke-width="1.5" stroke-linejoin="round">reduced per year*</text>
<text x="1411.90" y="2565" font-size="52" font-weight="bold" fill="#000000" textLength="47.81" lengthAdjust="spacingAndGlyphs" stroke="#000000" stroke-width="1.8" stroke-linejoin="round">23</text>
<text x="1565.22" y="2565" font-size="50" fill="#000000" textLength="767.09" lengthAdjust="spacingAndGlyphs" stroke="#000000" stroke-width="1.5" stroke-linejoin="round">projects improve access to targeted development areas</text>
<path id="woman" fill="#00829b" d="M184.3 2110.5 C186.0 2110.7 189.4 2111.9 190.7 2112.8 C192.0 2113.6 192.7 2115.2 193.0 2116.3 C193.2 2117.4 192.8 2119.1 192.3 2120.2 C191.8 2121.3 190.7 2123.2 189.7 2123.7 C188.8 2124.3 186.9 2123.4 186.2 2123.7 C185.5 2124.1 184.3 2125.2 184.9 2126.0 C185.5 2126.8 189.3 2128.2 190.4 2129.2 C191.5 2130.3 191.8 2130.9 192.3 2133.1 C192.8 2135.3 193.2 2141.9 193.6 2144.1 C194.1 2146.3 193.3 2146.1 195.2 2148.0 C197.1 2149.8 204.0 2154.9 206.2 2156.4 C208.4 2157.9 209.4 2157.2 209.8 2158.0 C210.1 2158.8 209.1 2161.5 208.5 2161.9 C207.9 2162.2 207.1 2160.4 205.9 2160.2 C204.7 2160.1 201.7 2161.2 200.4 2160.9 C199.1 2160.5 198.7 2159.2 197.2 2158.0 C195.7 2156.8 191.6 2152.1 190.4 2152.8 C189.2 2153.5 189.3 2160.5 189.4 2162.8 C189.5 2165.1 189.8 2167.4 191.0 2168.0 C192.2 2168.6 196.0 2165.6 197.5 2167.0 C199.0 2168.5 199.9 2175.4 201.1 2177.7 C202.2 2180.0 204.4 2181.1 204.9 2182.2 C205.5 2183.3 205.8 2184.1 204.6 2184.8 C203.4 2185.5 197.7 2186.0 196.9 2187.0 C196.0 2188.1 198.4 2190.3 198.8 2191.9 C199.2 2193.5 198.2 2195.4 199.8 2197.7 C201.3 2200.0 208.3 2205.5 209.1 2207.4 C209.9 2209.3 204.3 2209.3 204.9 2210.3 C205.5 2211.3 211.9 2213.0 213.0 2213.8 C214.1 2214.7 213.0 2215.4 212.0 2215.8 C211.1 2216.2 209.1 2216.6 206.9 2216.4 C204.6 2216.3 199.4 2216.7 197.2 2214.8 C194.9 2213.0 193.6 2207.7 192.0 2204.2 C190.5 2200.6 189.0 2193.0 186.8 2191.2 C184.7 2189.4 179.4 2192.3 177.5 2192.2 C175.5 2192.2 174.5 2191.5 173.9 2190.9 C173.3 2190.3 174.5 2187.5 173.6 2188.0 C172.7 2188.5 169.6 2192.3 168.1 2194.5 C166.7 2196.6 164.9 2199.8 163.9 2202.2 C162.9 2204.6 162.5 2209.4 161.6 2210.6 C160.8 2211.8 158.1 2209.7 158.4 2210.3 C158.8 2210.9 163.1 2213.8 163.9 2214.8 C164.7 2215.8 164.4 2216.5 163.6 2216.8 C162.8 2217.0 159.9 2217.2 158.4 2216.8 C157.0 2216.3 155.4 2214.3 153.9 2213.8 C152.4 2213.4 149.1 2214.2 148.4 2213.5 C147.7 2212.9 148.7 2210.5 149.1 2209.6 C149.4 2208.8 150.9 2208.2 150.7 2207.7 C150.5 2207.2 147.7 2207.2 147.8 2206.1 C147.9 2205.0 150.1 2201.9 151.3 2200.3 C152.5 2198.6 154.5 2197.1 155.8 2195.1 C157.2 2193.2 159.0 2189.3 160.4 2187.4 C161.8 2185.4 164.2 2183.6 165.2 2182.2 C166.2 2180.8 167.7 2179.3 166.8 2178.3 C165.9 2177.4 158.8 2179.4 159.1 2175.7 C159.3 2172.1 167.1 2158.1 168.4 2153.8 C169.8 2149.4 168.0 2149.9 168.1 2146.7 C168.3 2143.5 169.3 2134.8 169.4 2132.5 C169.5 2130.1 168.4 2132.1 169.1 2131.2 C169.8 2130.3 173.5 2127.0 173.9 2126.3 C174.4 2125.6 172.4 2127.3 172.0 2126.6 C171.5 2126.0 171.5 2123.1 171.0 2122.1 C170.6 2121.1 169.2 2120.6 169.1 2119.9 C169.0 2119.1 170.4 2117.9 170.4 2117.3 C170.4 2116.7 168.9 2116.3 169.1 2115.7 C169.2 2115.1 170.2 2113.9 171.3 2113.4 C172.5 2112.9 175.3 2112.4 176.5 2112.1 C177.7 2111.8 177.9 2111.7 179.1 2111.5 C180.3 2111.2 182.5 2110.3 184.3 2110.5 Z"/>
<g id="clock" fill="none" stroke="#3f2783"><ellipse cx="1325.1" cy="2156" rx="52.4" ry="44.9" stroke-width="3.5"/><path stroke-width="3.5" d="M1325.1 2111.1 L1325.1 2121.4 M1351.3 2117.1 L1345.3 2126.1 M1370.5 2133.6 L1360.0 2138.7 M1377.5 2156.0 L1365.4 2156.0 M1370.5 2178.4 L1360.0 2173.3 M1351.3 2194.9 L1345.3 2185.9 M1325.1 2200.9 L1325.1 2190.6 M1298.9 2194.9 L1304.9 2185.9 M1279.7 2178.4 L1290.2 2173.3 M1272.7 2156.0 L1284.8 2156.0 M1279.7 2133.6 L1290.2 2138.7 M1298.9 2117.1 L1304.9 2126.1 "/><path stroke-width="4" d="M1328.5 2155.3 L1297.6 2177.1"/><path fill="#3f2783" stroke="none" d="M1323.5 2125.5 H1326.7 L1331 2156 L1326 2159.5 L1323.5 2157 Z"/></g>
<g id="leaf" fill="none" stroke="#fcb441" stroke-width="3.6" stroke-linejoin="miter" stroke-miterlimit="6"><path d="M1271.6 2362.4 C1274.0 2361.5 1281.5 2359.4 1286.0 2356.9 C1290.4 2354.5 1294.8 2351.3 1298.4 2347.7 C1302.0 2344.0 1303.8 2339.0 1307.7 2335.3 C1311.5 2331.5 1316.2 2327.9 1321.6 2325.2 C1327.0 2322.5 1330.9 2320.5 1340.2 2319.0 C1349.5 2317.5 1371.2 2316.7 1377.3 2316.3 L1377.3 2316.3 C1376.3 2318.9 1374.1 2326.2 1371.2 2332.2 C1368.2 2338.2 1364.1 2346.2 1359.5 2352.3 C1355.0 2358.4 1349.2 2364.6 1344.1 2368.6 C1338.9 2372.6 1334.1 2374.7 1328.6 2376.3 C1323.0 2377.9 1316.6 2378.5 1310.8 2378.2 C1304.9 2378.0 1298.8 2376.4 1293.7 2374.8 C1288.7 2373.1 1284.2 2370.6 1280.6 2368.6 C1276.9 2366.5 1273.1 2363.4 1271.6 2362.4 Z"/><path d="M1307.7 2360.0 C1309.9 2359.1 1317.1 2356.7 1320.8 2354.6 C1324.6 2352.6 1327.1 2350.6 1330.1 2347.7 C1333.1 2344.7 1335.0 2340.4 1338.6 2336.8 C1342.2 2333.2 1346.1 2328.9 1351.8 2326.0 C1357.5 2323.0 1369.2 2320.2 1372.7 2319.0"/></g>
<text x="142.57" y="2671.5" font-size="32" fill="#000000" textLength="691.00" lengthAdjust="spacingAndGlyphs">Sources: MassDOT and the Boston Region MPO</text>
<text x="141.38" y="2714" font-size="32" fill="#000000" textLength="1300.76" lengthAdjust="spacingAndGlyphs">HSIP: Highway Safety Improvement Program. MAPC: Metropolitan Area Planning Council</text>
<text x="143.51" y="2756.5" font-size="32" fill="#000000" textLength="2237.65" lengthAdjust="spacingAndGlyphs">* These estimates exclude the Green Line Extension project in Cambridge, Somerville and Medford, the New Boston Street Bridge project in Woburn, and</text>
<text x="143.50" y="2799" font-size="32" fill="#000000" textLength="605.66" lengthAdjust="spacingAndGlyphs">the Rutherford Avenue project in Boston.</text>
<text x="141.34" y="2841.5" font-size="32" fill="#000000" textLength="1818.78" lengthAdjust="spacingAndGlyphs">Note: Projects have not yet been selected for the MPOs Community Transportation/Parking/Clean Air and Mobility Program.</text>
</svg>
</body>
</html>
